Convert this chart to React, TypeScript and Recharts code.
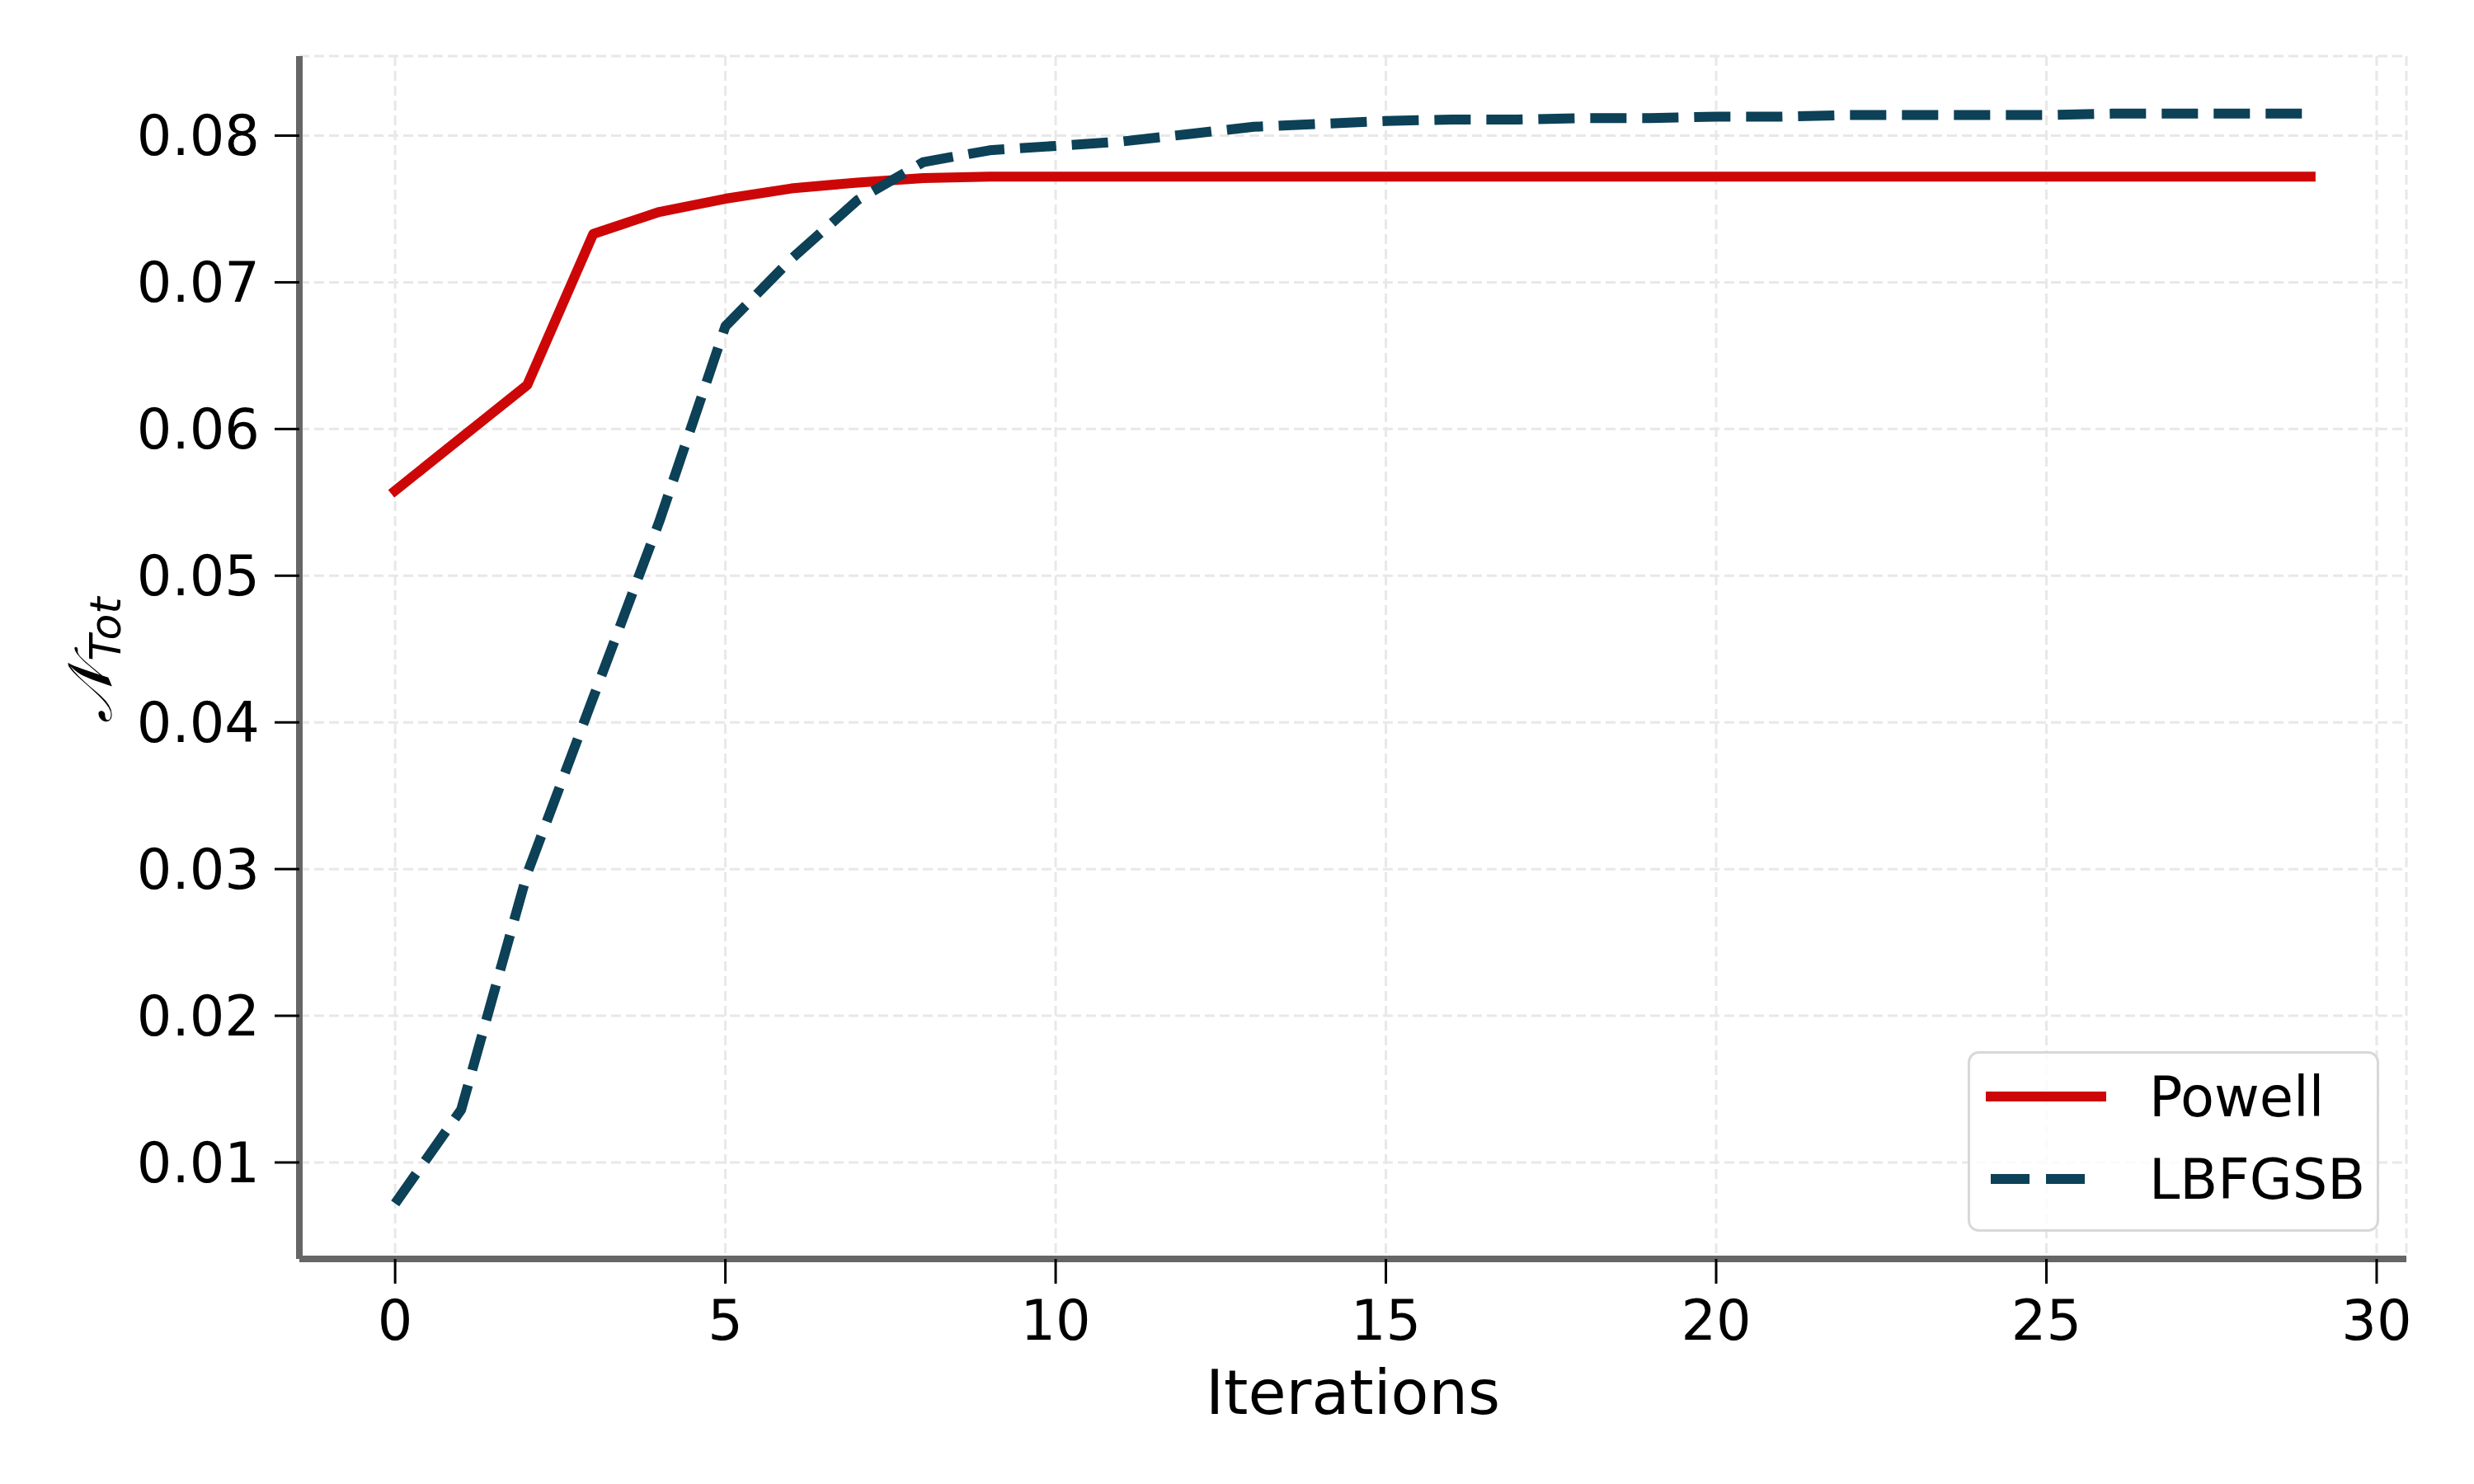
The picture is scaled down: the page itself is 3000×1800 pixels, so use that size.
import React from 'react';
import { LineChart, Line, XAxis, YAxis, CartesianGrid, Legend } from 'recharts';

const iterations = [0, 1, 2, 3, 4, 5, 6, 7, 8, 9, 10, 11, 12, 13, 14, 15, 16, 17, 18, 19, 20, 21, 22, 23, 24, 25, 26, 27, 28, 29];
const powell = [0.0558, 0.0594, 0.0630, 0.0733, 0.0748, 0.0757, 0.0764, 0.0768, 0.0771, 0.0772,
  0.0772, 0.0772, 0.0772, 0.0772, 0.0772, 0.0772, 0.0772, 0.0772, 0.0772, 0.0772,
  0.0772, 0.0772, 0.0772, 0.0772, 0.0772, 0.0772, 0.0772, 0.0772, 0.0772, 0.0772];
const lbfgsb = [0.0072, 0.0136, 0.0297, 0.0417, 0.0537, 0.0670, 0.0716, 0.0756, 0.0782, 0.0790,
  0.0793, 0.0796, 0.0801, 0.0806, 0.0808, 0.0810, 0.0811, 0.0811, 0.0812, 0.0812,
  0.0813, 0.0813, 0.0814, 0.0814, 0.0814, 0.0814, 0.0815, 0.0815, 0.0815, 0.0815];
const seriesNames = ['Powell', 'LBFGSB'];
const xTicks = [0, 5, 10, 15, 20, 25, 30];
const yTicks = [0.01, 0.02, 0.03, 0.04, 0.05, 0.06, 0.07, 0.08];

const data = iterations.map((it, i) => ({ x: it, Powell: powell[i], LBFGSB: lbfgsb[i] }));

const RED = '#cd0707';
const BLUE = '#0c4157';
const FONT = 'DejaVu Sans';
const dashes: Record<string, string | undefined> = { Powell: undefined, LBFGSB: '47 20' };

const LegendContent = (props: any) => {
  const payload = [...(props.payload || [])].sort(
    (a: any, b: any) => seriesNames.indexOf(a.value) - seriesNames.indexOf(b.value)
  );
  return (
    <svg width={499} height={219} style={{ display: 'block' }}>
      <rect x={1.5} y={1.5} width={496} height={216} rx={12} ry={12} fill="#ffffff" fillOpacity={0.8} stroke="#d8d8d8" strokeWidth={3} />
      {payload.map((p: any, i: number) => {
        const cy = 55 + i * 100;
        return (
          <g key={p.value}>
            <line x1={28} x2={162} y1={cy} y2={cy} stroke={p.color} strokeWidth={12}
              strokeDasharray={dashes[p.value]} strokeLinecap={dashes[p.value] ? 'butt' : 'square'} />
            <text x={220} y={cy + 24} fontFamily={FONT} fontSize={67} fill="#000">{p.value}</text>
          </g>
        );
      })}
    </svg>
  );
};

const XLabel = (props: any) => {
  const vb = props.viewBox || {};
  return (
    <text x={vb.x + vb.width / 2} y={vb.y + 188} textAnchor="middle" fontFamily={FONT} fontSize={75} fill="#000">Iterations</text>
  );
};

const YLabel = (props: any) => {
  const vb = props.viewBox || {};
  const cx = 135;
  const cy = vb.y + vb.height / 2 + 3;
  return (
    <text x={cx} y={cy} transform={`rotate(-90, ${cx}, ${cy})`} textAnchor="middle" fill="#000" fontSize={75} fontFamily="DejaVu Serif">
      <tspan fontStyle="italic">{'\u{1D4A9}'}</tspan>
      <tspan dx={3} dy={11} fontSize={52} fontStyle="italic" fontFamily={FONT}>Tot</tspan>
    </text>
  );
};

export default function App() {
  return (
    <div style={{ position: 'absolute', left: 0, top: 0, width: 3000, height: 1800, background: '#fff' }}>
      <LineChart width={3000} height={1800} data={data} margin={{ top: 68, right: 82, bottom: 0, left: 0 }}>
        <CartesianGrid stroke="#e8e8e8" strokeWidth={3} strokeDasharray="12 6" />
        <XAxis
          type="number"
          dataKey="x"
          domain={[-1.45, 30.45]}
          ticks={xTicks}
          allowDataOverflow
          height={273}
          axisLine={{ stroke: '#666666', strokeWidth: 8 }}
          tickLine={{ stroke: '#000', strokeWidth: 3 }}
          tickSize={30}
          tickMargin={20}
          tick={{ fontFamily: FONT, fontSize: 67, fill: '#000' }}
          label={<XLabel />}
        />
        <YAxis
          type="number"
          domain={[0.003424, 0.085424]}
          ticks={yTicks}
          allowDataOverflow
          width={363}
          axisLine={{ stroke: '#666666', strokeWidth: 8 }}
          tickLine={{ stroke: '#000', strokeWidth: 3 }}
          tickSize={30}
          tickMargin={18}
          tick={{ fontFamily: FONT, fontSize: 67, fill: '#000' }}
          tickFormatter={(v: number) => v.toFixed(2)}
          label={<YLabel />}
        />
        <Line type="linear" dataKey="Powell" name="Powell" stroke={RED} strokeWidth={12} dot={false} activeDot={false}
          isAnimationActive={false} strokeLinecap="square" strokeLinejoin="round" />
        <Line type="linear" dataKey="LBFGSB" name="LBFGSB" stroke={BLUE} strokeWidth={12} dot={false} activeDot={false}
          isAnimationActive={false} strokeDasharray="44 19" strokeLinecap="butt" strokeLinejoin="round" />
        <Legend layout="horizontal" align="center" verticalAlign="middle" content={<LegendContent />}
          wrapperStyle={{ left: 2386, top: 1275, width: 499, height: 219 }} />
      </LineChart>
    </div>
  );
}
